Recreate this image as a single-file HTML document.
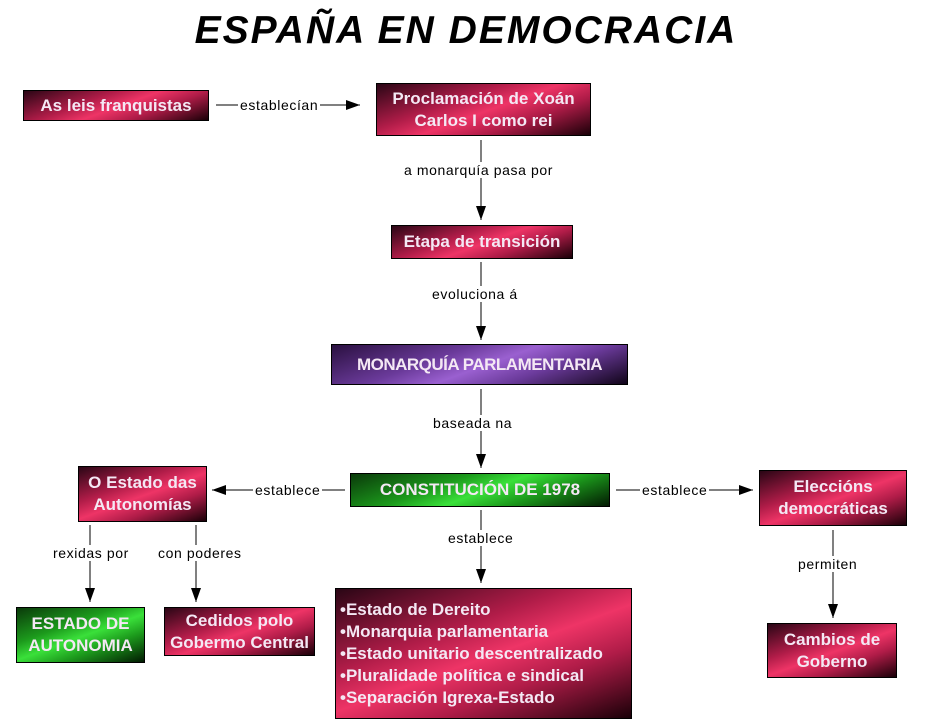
<!DOCTYPE html>
<html><head><meta charset="utf-8"><style>
body{margin:0;width:928px;height:720px;background:#fff;position:relative;overflow:hidden;font-family:"Liberation Sans",sans-serif}
.b{position:absolute;box-sizing:border-box;border:1px solid #000;color:#f4e8f4;font-weight:bold;font-size:17px;display:flex;align-items:center;justify-content:center;text-align:center;line-height:22px;
background:linear-gradient(160deg,#2a0615 0%,#b01c48 35%,#ee3466 52%,#b01c48 70%,#1a0008 100%)}
.g{background:linear-gradient(160deg,#0a3a0a 0%,#1c9a1c 35%,#3ae03a 52%,#1c9a1c 70%,#021a02 100%)}
.p{background:linear-gradient(160deg,#2a1040 0%,#6a3a9a 35%,#9a60d0 52%,#6a3a9a 70%,#100418 100%)}
.l{position:absolute;font-size:14px;letter-spacing:0.6px;color:#000;background:#fff;padding:0 2px}
</style></head><body>
<div style="position:absolute;left:0;width:928px;top:9px;text-align:center;font-size:39px;font-weight:bold;font-style:italic;letter-spacing:2px;padding-left:4px;box-sizing:border-box">ESPAÑA EN DEMOCRACIA</div>
<svg width="928" height="720" style="position:absolute;left:0;top:0">
<defs>
<marker id="m" markerWidth="16" markerHeight="12" refX="14" refY="6" orient="auto" markerUnits="userSpaceOnUse"><path d="M0,1L14,6L0,11z" fill="#000"/></marker></defs>
<g stroke="#000" stroke-width="1" fill="none">
<line x1="216" y1="105" x2="360" y2="105" marker-end="url(#m)"/>
<line x1="481" y1="140" x2="481" y2="220" marker-end="url(#m)"/>
<line x1="481" y1="262" x2="481" y2="340" marker-end="url(#m)"/>
<line x1="481" y1="389" x2="481" y2="468" marker-end="url(#m)"/>
<line x1="481" y1="510" x2="481" y2="583" marker-end="url(#m)"/>
<line x1="345" y1="490" x2="212" y2="490" marker-end="url(#m)"/>
<line x1="616" y1="490" x2="753" y2="490" marker-end="url(#m)"/>
<line x1="90" y1="525" x2="90" y2="602" marker-end="url(#m)"/>
<line x1="196" y1="525" x2="196" y2="602" marker-end="url(#m)"/>
<line x1="833" y1="530" x2="833" y2="618" marker-end="url(#m)"/>
</g></svg>
<div class="l" style="left:238px;top:97px">establecían</div>
<div class="l" style="left:402px;top:162px">a monarquía pasa por</div>
<div class="l" style="left:430px;top:286px">evoluciona á</div>
<div class="l" style="left:431px;top:415px">baseada na</div>
<div class="l" style="left:253px;top:482px">establece</div>
<div class="l" style="left:640px;top:482px">establece</div>
<div class="l" style="left:446px;top:530px">establece</div>
<div class="l" style="left:51px;top:545px">rexidas por</div>
<div class="l" style="left:156px;top:545px">con poderes</div>
<div class="l" style="left:796px;top:556px">permiten</div>
<div class="b" style="left:23px;top:90px;width:186px;height:31px">As leis franquistas</div>
<div class="b" style="left:376px;top:83px;width:215px;height:53px">Proclamación de Xoán<br>Carlos I como rei</div>
<div class="b" style="left:391px;top:225px;width:182px;height:34px">Etapa de transición</div>
<div class="b p" style="left:331px;top:344px;width:297px;height:41px;letter-spacing:-0.5px">MONARQUÍA PARLAMENTARIA</div>
<div class="b g" style="left:350px;top:473px;width:260px;height:34px">CONSTITUCIÓN DE 1978</div>
<div class="b" style="left:78px;top:466px;width:129px;height:56px">O Estado das<br>Autonomías</div>
<div class="b" style="left:759px;top:470px;width:148px;height:56px">Eleccións<br>democráticas</div>
<div class="b g" style="left:16px;top:607px;width:129px;height:56px">ESTADO DE<br>AUTONOMIA</div>
<div class="b" style="left:164px;top:607px;width:151px;height:49px">Cedidos polo<br>Gobermo Central</div>
<div class="b" style="left:335px;top:588px;width:297px;height:131px;justify-content:flex-start;text-align:left;padding-left:4px;font-size:17px;line-height:22px">•Estado de Dereito<br>•Monarquia parlamentaria<br>•Estado unitario descentralizado<br>•Pluralidade política e sindical<br>•Separación Igrexa-Estado</div>
<div class="b" style="left:767px;top:623px;width:130px;height:55px">Cambios de<br>Goberno</div>
</body></html>
